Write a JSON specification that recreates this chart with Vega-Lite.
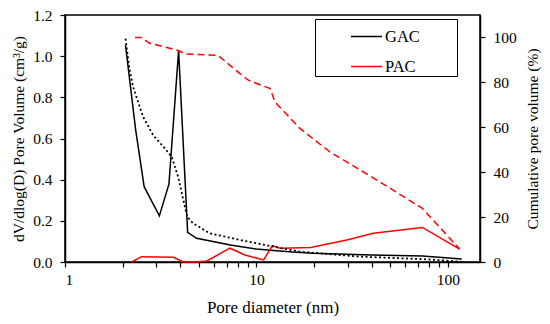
{
  "$schema": "https://vega.github.io/schema/vega-lite/v6.json",
  "width": 415,
  "height": 247,
  "autosize": {"type": "none"},
  "padding": {"left": 65, "top": 15, "right": 70, "bottom": 62},
  "background": "white",
  "config": {
    "font": "Liberation Serif",
    "view": {"stroke": "black", "strokeWidth": 1.5},
    "axis": {
      "grid": false,
      "domainColor": "black",
      "domainWidth": 1.5,
      "tickColor": "black",
      "tickWidth": 1.2,
      "tickSize": 5,
      "labelColor": "black",
      "titleColor": "black",
      "labelFont": "Liberation Serif",
      "titleFont": "Liberation Serif",
      "labelFontSize": 15.5,
      "titleFontSize": 15.5,
      "titleFontWeight": "normal",
      "labelPadding": 8
    }
  },
  "data": {
    "values": [
      {"d": 2.07, "v": 1.054, "material": "GAC", "kind": "dist"},
      {"d": 2.34, "v": 0.641, "material": "GAC", "kind": "dist"},
      {"d": 2.59, "v": 0.366, "material": "GAC", "kind": "dist"},
      {"d": 3.11, "v": 0.224, "material": "GAC", "kind": "dist"},
      {"d": 3.49, "v": 0.378, "material": "GAC", "kind": "dist"},
      {"d": 3.92, "v": 1.027, "material": "GAC", "kind": "dist"},
      {"d": 4.37, "v": 0.144, "material": "GAC", "kind": "dist"},
      {"d": 4.87, "v": 0.115, "material": "GAC", "kind": "dist"},
      {"d": 7.3, "v": 0.083, "material": "GAC", "kind": "dist"},
      {"d": 10.0, "v": 0.063, "material": "GAC", "kind": "dist"},
      {"d": 12.3, "v": 0.056, "material": "GAC", "kind": "dist"},
      {"d": 15.5, "v": 0.048, "material": "GAC", "kind": "dist"},
      {"d": 19.7, "v": 0.042, "material": "GAC", "kind": "dist"},
      {"d": 40.0, "v": 0.034, "material": "GAC", "kind": "dist"},
      {"d": 73.5, "v": 0.029, "material": "GAC", "kind": "dist"},
      {"d": 118, "v": 0.014, "material": "GAC", "kind": "dist"},

      {"d": 2.23, "v": 0.0, "material": "PAC", "kind": "dist"},
      {"d": 2.51, "v": 0.026, "material": "PAC", "kind": "dist"},
      {"d": 3.68, "v": 0.023, "material": "PAC", "kind": "dist"},
      {"d": 4.15, "v": 0.0, "material": "PAC", "kind": "dist"},
      {"d": 4.87, "v": 0.0, "material": "PAC", "kind": "dist"},
      {"d": 5.5, "v": 0.005, "material": "PAC", "kind": "dist"},
      {"d": 7.27, "v": 0.067, "material": "PAC", "kind": "dist"},
      {"d": 8.7, "v": 0.034, "material": "PAC", "kind": "dist"},
      {"d": 10.9, "v": 0.01, "material": "PAC", "kind": "dist"},
      {"d": 12.1, "v": 0.079, "material": "PAC", "kind": "dist"},
      {"d": 13.3, "v": 0.067, "material": "PAC", "kind": "dist"},
      {"d": 19.2, "v": 0.07, "material": "PAC", "kind": "dist"},
      {"d": 29.6, "v": 0.107, "material": "PAC", "kind": "dist"},
      {"d": 40.7, "v": 0.14, "material": "PAC", "kind": "dist"},
      {"d": 73.5, "v": 0.168, "material": "PAC", "kind": "dist"},
      {"d": 115, "v": 0.063, "material": "PAC", "kind": "dist"},

      {"d": 2.07, "v": 99.5, "material": "GAC", "kind": "cum"},
      {"d": 2.17, "v": 86, "material": "GAC", "kind": "cum"},
      {"d": 2.27, "v": 77.9, "material": "GAC", "kind": "cum"},
      {"d": 2.56, "v": 64.6, "material": "GAC", "kind": "cum"},
      {"d": 2.89, "v": 56.4, "material": "GAC", "kind": "cum"},
      {"d": 3.33, "v": 50.5, "material": "GAC", "kind": "cum"},
      {"d": 3.61, "v": 46.8, "material": "GAC", "kind": "cum"},
      {"d": 3.9, "v": 37.9, "material": "GAC", "kind": "cum"},
      {"d": 4.15, "v": 27.6, "material": "GAC", "kind": "cum"},
      {"d": 4.35, "v": 20.1, "material": "GAC", "kind": "cum"},
      {"d": 4.67, "v": 17.2, "material": "GAC", "kind": "cum"},
      {"d": 5.7, "v": 12.8, "material": "GAC", "kind": "cum"},
      {"d": 8.2, "v": 9.8, "material": "GAC", "kind": "cum"},
      {"d": 12.3, "v": 6.8, "material": "GAC", "kind": "cum"},
      {"d": 16.9, "v": 4.6, "material": "GAC", "kind": "cum"},
      {"d": 34.6, "v": 2.4, "material": "GAC", "kind": "cum"},
      {"d": 77.5, "v": 1.2, "material": "GAC", "kind": "cum"},
      {"d": 118, "v": 0.1, "material": "GAC", "kind": "cum"},

      {"d": 2.32, "v": 100, "material": "PAC", "kind": "cum"},
      {"d": 2.5, "v": 100, "material": "PAC", "kind": "cum"},
      {"d": 2.75, "v": 97.5, "material": "PAC", "kind": "cum"},
      {"d": 3.9, "v": 94.2, "material": "PAC", "kind": "cum"},
      {"d": 4.23, "v": 92.7, "material": "PAC", "kind": "cum"},
      {"d": 6.3, "v": 92, "material": "PAC", "kind": "cum"},
      {"d": 8.2, "v": 83.9, "material": "PAC", "kind": "cum"},
      {"d": 9.1, "v": 80.9, "material": "PAC", "kind": "cum"},
      {"d": 11.8, "v": 77.2, "material": "PAC", "kind": "cum"},
      {"d": 12.5, "v": 71.2, "material": "PAC", "kind": "cum"},
      {"d": 16.9, "v": 59.4, "material": "PAC", "kind": "cum"},
      {"d": 24.2, "v": 49, "material": "PAC", "kind": "cum"},
      {"d": 40.7, "v": 37.5, "material": "PAC", "kind": "cum"},
      {"d": 73.5, "v": 23.9, "material": "PAC", "kind": "cum"},
      {"d": 115, "v": 5.8, "material": "PAC", "kind": "cum"}
    ]
  },
  "layer": [
    {
      "transform": [{"filter": "datum.kind == 'dist'"}],
      "mark": {"type": "line", "strokeWidth": 1.5},
      "encoding": {
        "x": {
          "field": "d",
          "type": "quantitative",
          "scale": {"type": "log", "domain": [1, 147], "nice": false},
          "axis": {
            "title": "Pore diameter (nm)",
            "titleFontSize": 17,
            "values": [1, 2, 3, 4, 5, 6, 7, 8, 9, 10, 20, 30, 40, 50, 60, 70, 80, 90, 100],
            "labelExpr": "datum.value == 1 || datum.value == 10 || datum.value == 100 ? toString(datum.value) : ''",
            "labelOverlap": false,
            "labelPadding": 5,
            "titlePadding": 12
          }
        },
        "y": {
          "field": "v",
          "type": "quantitative",
          "scale": {"domain": [0, 1.2], "nice": false},
          "axis": {
            "orient": "left",
            "title": "dV/dlog(D) Pore Volume (cm³/g)",
            "values": [0, 0.2, 0.4, 0.6, 0.8, 1.0, 1.2],
            "format": ".1f",
            "titlePadding": 6
          }
        },
        "color": {
          "field": "material",
          "type": "nominal",
          "scale": {"domain": ["GAC", "PAC"], "range": ["black", "#ff0000"]},
          "legend": {
            "orient": "none",
            "legendX": 250,
            "legendY": 4,
            "title": null,
            "symbolType": "stroke",
            "symbolSize": 961,
            "symbolStrokeWidth": 1.5,
            "symbolDash": [],
            "labelFont": "Liberation Serif",
            "labelFontSize": 16.5,
            "labelColor": "black",
            "labelOffset": 2,
            "strokeColor": "black",
            "padding": 1,
            "symbolOffset": 34,
            "rowPadding": 5,
            "labelExpr": "datum.label + '\u2800\u2800\u2800'"
          }
        }
      }
    },
    {
      "transform": [{"filter": "datum.kind == 'cum' && datum.material == 'GAC'"}],
      "mark": {"type": "line", "strokeWidth": 1.8, "strokeDash": [2, 2.5]},
      "encoding": {
        "x": {"field": "d", "type": "quantitative"},
        "y": {
          "field": "v",
          "type": "quantitative",
          "scale": {"domain": [0, 110], "nice": false},
          "axis": {
            "orient": "right",
            "title": "Cumulative pore volume (%)",
            "titleAngle": 270,
            "titleBaseline": "top",
            "values": [0, 20, 40, 60, 80, 100],
            "titlePadding": 9
          }
        },
        "color": {"field": "material", "type": "nominal"}
      }
    },
    {
      "transform": [{"filter": "datum.kind == 'cum' && datum.material == 'PAC'"}],
      "mark": {"type": "line", "strokeWidth": 1.5, "strokeDash": [7, 4]},
      "encoding": {
        "x": {"field": "d", "type": "quantitative"},
        "y": {
          "field": "v",
          "type": "quantitative",
          "scale": {"domain": [0, 110], "nice": false},
          "axis": null
        },
        "color": {"field": "material", "type": "nominal"}
      }
    }
  ],
  "resolve": {"scale": {"y": "independent"}}
}
